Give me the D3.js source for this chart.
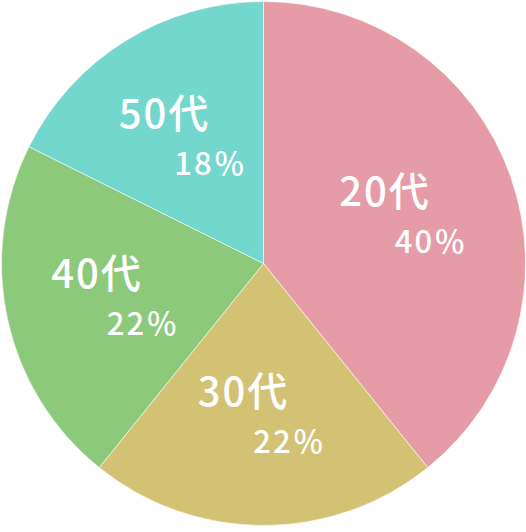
<!DOCTYPE html>
<html>
<head>
<meta charset="utf-8">
<script src="https://cdn.jsdelivr.net/npm/d3@7"></script>
<style>
html,body{margin:0;padding:0;background:#fff;}
svg{display:block;}
</style>
</head>
<body>
<svg id="chart" width="526" height="532"></svg>
<script>
const categories = ["20代", "30代", "40代", "50代"];
const values = [40, 22, 22, 18];
const percentLabels = ["40％", "22％", "22％", "18％"];
const colors = ["#E69CA7", "#D4C274", "#8CC97A", "#74D7CD"];

const W = 526, H = 532;
const cx = 263.5, cy = 263.5, R = 262;
const svg = d3.select("#chart");
const g = svg.append("g").attr("transform", `translate(${cx},${cy})`);

const data = categories.map((c, i) => ({name: c, value: values[i], pct: percentLabels[i], color: colors[i]}));
const pie = d3.pie().value(d => d.value).sort(null);
const arcs = pie(data);
const arc = d3.arc().innerRadius(0).outerRadius(R);
const labelArc = d3.arc().innerRadius(150).outerRadius(150);

g.selectAll("path.slice").data(arcs).join("path")
  .attr("class", "slice")
  .attr("d", arc)
  .attr("fill", d => d.data.color)
  .attr("stroke", "#ffffff")
  .attr("stroke-opacity", 0.7)
  .attr("stroke-width", 0.8);

const font = "'Noto Sans CJK JP', 'Noto Sans', sans-serif";
const lab = g.selectAll("g.lab").data(arcs).join("g")
  .attr("class", "lab")
  .attr("transform", d => { const [x, y] = labelArc.centroid(d); return `translate(${x},${y})`; });

lab.append("text")
  .attr("x", -20).attr("y", -25)
  .attr("text-anchor", "middle")
  .attr("dominant-baseline", "central")
  .attr("fill", "#fff")
  .attr("font-family", font)
  .attr("font-weight", 500)
  .attr("font-size", 40)
  .attr("letter-spacing", 2)
  .text(d => d.data.name);

lab.append("text")
  .attr("x", 26).attr("y", 26)
  .attr("text-anchor", "middle")
  .attr("dominant-baseline", "central")
  .attr("fill", "#fff")
  .attr("font-family", font)
  .attr("font-weight", 500)
  .attr("font-size", 31)
  .attr("letter-spacing", 2)
  .text(d => d.data.pct);
</script>
</body>
</html>
